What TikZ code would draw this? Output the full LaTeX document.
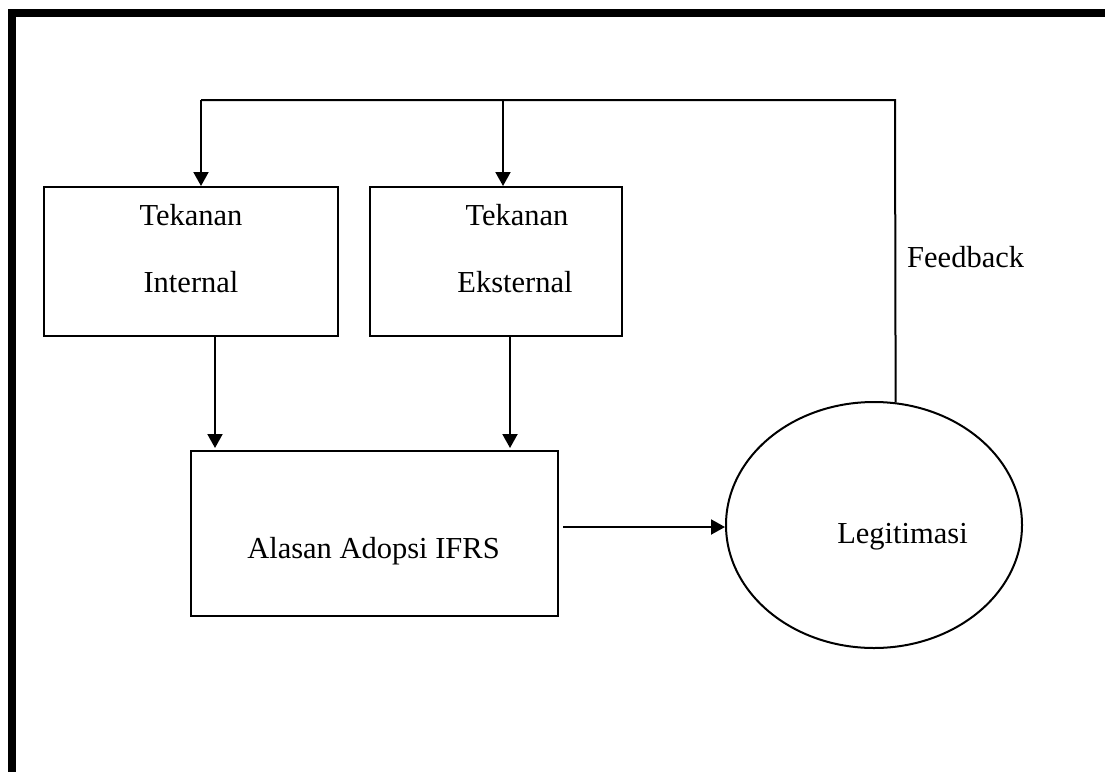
\documentclass[tikz,border=0pt]{standalone}
\usepackage{fontspec}
\setmainfont{Liberation Serif}
\usetikzlibrary{arrows.meta,shapes.geometric}
\begin{document}
\begin{tikzpicture}[x=1pt,y=-1pt,
  box/.style={draw, line width=2pt, rectangle, inner sep=0pt},
  conn/.style={line width=2pt},
  arr/.style={conn, -{Triangle[length=14pt,width=15pt]}},
  lbl/.style={font=\fontsize{30.5}{36}\selectfont, anchor=base, inner sep=0pt}]
\useasboundingbox (0,0) rectangle (1105,771);
\clip (0,0) rectangle (1105,771);
% outer frame
\draw[line width=8pt, line join=miter] (11.5,800) -- (11.5,13.4) -- (1130,13.4);
% shapes
\node[box, minimum width=294pt, minimum height=149pt] (int) at (191,261.5) {};
\node[box, minimum width=252pt, minimum height=149pt] (ext) at (496,261.5) {};
\node[box, minimum width=367pt, minimum height=165pt] (alas) at (374.5,533.5) {};
\node[draw, ellipse, line width=2pt, minimum width=296pt, minimum height=246pt, inner sep=0pt] (leg) at (874,525) {};
% texts
\node[lbl] (t1) at (191,225) {Tekanan};
\node[lbl] (t2) at (191,292) {Internal};
\node[lbl] (t3) at (517,225) {Tekanan};
\node[lbl] (t4) at (515,292) {Eksternal};
\node[lbl] (t5) at (373.5,558) {Alasan Adopsi IFRS};
\node[lbl] (t6) at (902.5,543) {Legitimasi};
\node[lbl, anchor=base west] (fbl) at (907,267) {Feedback};
% feedback loop
\coordinate (fb) at (895,100);
\coordinate (fl) at (201,100);
\coordinate (fm) at (503,100);
\draw[conn] (leg.80) -- (fb) -- (fl);
\draw[arr] (fl) -- (fl |- int.north);
\draw[arr] (fm) -- (fm |- ext.north);
% pressures to reasons
\coordinate (a1) at (215,0);
\coordinate (a2) at (510,0);
\draw[arr, shorten >=2pt] (int.south -| a1) -- (alas.north -| a1);
\draw[arr, shorten >=2pt] (ext.south -| a2) -- (alas.north -| a2);
% reasons to legitimacy
\coordinate (h0) at (563,527);
\draw[arr] (h0) -- (h0 -| leg.west);
\end{tikzpicture}
\end{document}
